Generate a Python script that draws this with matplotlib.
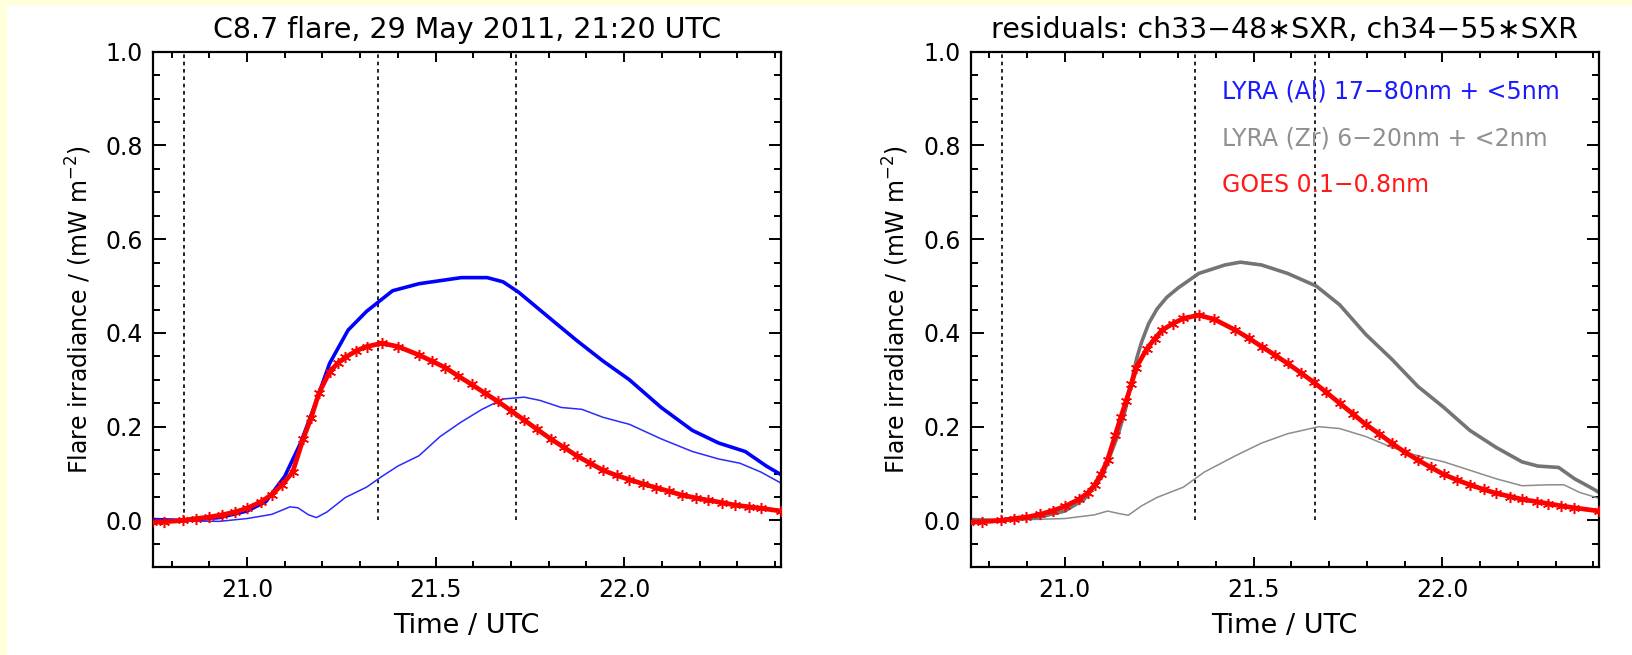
import matplotlib
matplotlib.use("Agg")
import matplotlib.pyplot as plt
from matplotlib.patches import Rectangle
from matplotlib.ticker import MultipleLocator

# ---- left panel: C8.7 flare ----
al_time = [20.749, 20.83, 20.926, 21.0, 21.05, 21.1, 21.142, 21.177, 21.219, 21.268,
           21.317, 21.386, 21.456, 21.568, 21.637, 21.679, 21.72, 21.805, 21.874, 21.944,
           22.014, 22.098, 22.181, 22.251, 22.321, 22.377, 22.415]
al_flux = [0.002, 0.0, 0.006, 0.02, 0.04, 0.094, 0.165, 0.24, 0.335, 0.406,
           0.446, 0.49, 0.505, 0.518, 0.518, 0.509, 0.487, 0.43, 0.384, 0.34,
           0.30, 0.241, 0.192, 0.165, 0.147, 0.116, 0.098]

al_thin_time = [20.749, 20.926, 21.0, 21.066, 21.114, 21.135, 21.163, 21.184, 21.212, 21.261,
                21.317, 21.358, 21.4, 21.456, 21.512, 21.568, 21.623, 21.679, 21.735, 21.777,
                21.833, 21.888, 21.944, 22.014, 22.098, 22.181, 22.251, 22.307, 22.363, 22.415]
al_thin_flux = [0.0, -0.002, 0.004, 0.013, 0.029, 0.027, 0.012, 0.006, 0.018, 0.049,
                0.071, 0.094, 0.116, 0.138, 0.179, 0.21, 0.237, 0.259, 0.263, 0.256,
                0.241, 0.237, 0.22, 0.205, 0.174, 0.147, 0.131, 0.122, 0.103, 0.08]

goes_l_time = [20.749, 20.78, 20.83, 20.865, 20.898, 20.935, 20.968, 21.0, 21.038, 21.065,
               21.093, 21.121, 21.149, 21.17, 21.191, 21.219, 21.24, 21.261, 21.29, 21.317,
               21.358, 21.4, 21.456, 21.49, 21.526, 21.56, 21.596, 21.63, 21.665, 21.7,
               21.735, 21.77, 21.805, 21.84, 21.874, 21.91, 21.944, 21.98, 22.014, 22.05,
               22.084, 22.12, 22.153, 22.19, 22.223, 22.26, 22.293, 22.33, 22.363, 22.415]
goes_l_flux = [-0.004, -0.003, 0.0, 0.004, 0.007, 0.012, 0.018, 0.026, 0.04, 0.055,
               0.076, 0.103, 0.174, 0.219, 0.272, 0.317, 0.335, 0.348, 0.362, 0.371,
               0.378, 0.371, 0.353, 0.34, 0.326, 0.308, 0.29, 0.272, 0.254, 0.234,
               0.214, 0.194, 0.174, 0.156, 0.138, 0.122, 0.107, 0.096, 0.087, 0.078,
               0.07, 0.062, 0.054, 0.048, 0.043, 0.038, 0.033, 0.029, 0.026, 0.02]

# ---- right panel: residuals ----
zr_time = [20.747, 20.83, 20.926, 21.0, 21.051, 21.099, 21.141, 21.16, 21.175, 21.19, 21.203,
           21.222, 21.244, 21.27, 21.3, 21.355, 21.424, 21.465, 21.521, 21.59, 21.666, 21.728,
           21.797, 21.866, 21.935, 22.004, 22.073, 22.142, 22.211, 22.253, 22.308, 22.35,
           22.391, 22.415]
zr_flux = [0.002, 0.0, 0.006, 0.02, 0.045, 0.094, 0.183, 0.235, 0.29, 0.345, 0.38,
           0.42, 0.451, 0.476, 0.496, 0.527, 0.545, 0.551, 0.545, 0.527, 0.5, 0.46,
           0.397, 0.344, 0.286, 0.241, 0.192, 0.156, 0.125, 0.116, 0.113, 0.089,
           0.071, 0.06]

zr_thin_time = [20.747, 21.0, 21.079, 21.113, 21.141, 21.168, 21.203, 21.244, 21.314, 21.369,
                21.452, 21.521, 21.59, 21.673, 21.728, 21.797, 21.866, 21.935, 22.004, 22.073,
                22.142, 22.211, 22.28, 22.322, 22.363, 22.415]
zr_thin_flux = [-0.002, 0.004, 0.012, 0.02, 0.015, 0.011, 0.031, 0.049, 0.071, 0.103,
                0.138, 0.165, 0.185, 0.2, 0.196, 0.179, 0.156, 0.138, 0.125, 0.107,
                0.089, 0.074, 0.076, 0.076, 0.06, 0.047]

goes_r_time = [20.747, 20.78, 20.83, 20.865, 20.898, 20.935, 20.968, 21.0, 21.037, 21.06,
               21.079, 21.097, 21.113, 21.134, 21.148, 21.162, 21.176, 21.189, 21.217, 21.238,
               21.258, 21.286, 21.314, 21.355, 21.396, 21.452, 21.487, 21.521, 21.556, 21.59,
               21.625, 21.659, 21.693, 21.728, 21.762, 21.797, 21.832, 21.866, 21.9, 21.935,
               21.97, 22.004, 22.04, 22.073, 22.11, 22.142, 22.18, 22.211, 22.25, 22.28,
               22.315, 22.349, 22.415]
goes_r_flux = [-0.004, -0.003, 0.0, 0.004, 0.007, 0.013, 0.021, 0.03, 0.045, 0.058,
               0.076, 0.1, 0.129, 0.183, 0.22, 0.254, 0.29, 0.326, 0.366, 0.388,
               0.406, 0.42, 0.431, 0.438, 0.429, 0.406, 0.389, 0.371, 0.353, 0.335,
               0.315, 0.295, 0.273, 0.25, 0.228, 0.205, 0.185, 0.165, 0.146, 0.129,
               0.113, 0.098, 0.086, 0.076, 0.066, 0.058, 0.051, 0.045, 0.04, 0.036,
               0.031, 0.027, 0.02]

left_marks = [20.832, 21.347, 21.712]
right_marks = [20.8325, 21.346, 21.663]

left_title = "C8.7 flare, 29 May 2011, 21:20 UTC"
right_title = "residuals: ch33\u221248\u2217SXR, ch34\u221255\u2217SXR"
legend_texts = ["LYRA (Al) 17\u221280nm + <5nm",
                "LYRA (Zr) 6\u221220nm + <2nm",
                "GOES 0.1\u22120.8nm"]
legend_colors = ["#1a1aff", "#909090", "#ff1a1a"]


def style_axes(ax, title):
    ax.set_xlim(20.75, 22.415)
    ax.set_ylim(-0.1, 1.0)
    ax.xaxis.set_minor_locator(MultipleLocator(0.1))
    ax.yaxis.set_minor_locator(MultipleLocator(0.05))
    ax.set_xticks([21.0, 21.5, 22.0])
    ax.set_xticklabels(["21.0", "21.5", "22.0"])
    ax.set_yticks([0.0, 0.2, 0.4, 0.6, 0.8, 1.0])
    ax.set_yticklabels(["0.0", "0.2", "0.4", "0.6", "0.8", "1.0"])
    ax.tick_params(which="both", direction="in", top=True, right=True, width=1.4)
    ax.tick_params(axis="x", which="major", length=7, pad=8, labelsize=17)
    ax.tick_params(axis="x", which="minor", length=4)
    ax.tick_params(axis="y", which="major", length=9, pad=7, labelsize=17)
    ax.tick_params(axis="y", which="minor", length=5)
    for spine in ax.spines.values():
        spine.set_linewidth(1.6)
    ax.set_title(title, fontsize=20.5, pad=10)
    ax.set_xlabel("Time / UTC", fontsize=19.5)
    ax.set_ylabel("Flare irradiance / (mW m$^{-2}$)", fontsize=17)
    ax.xaxis.set_label_coords(0.5, -0.088)
    ax.yaxis.set_label_coords(-0.094, 0.5)


def draw_goes(ax, t, f):
    ax.plot(t, f, color="red", lw=3.4, zorder=3)
    ax.plot(t, f, color="red", lw=0, marker=(6, 2, 0), markersize=8,
            markeredgewidth=1.1, zorder=4)


def main():
    fig = plt.figure(figsize=(16.32, 6.55), dpi=100)
    fig.patches.append(Rectangle((0, 1 - 6 / 655), 1, 6 / 655, transform=fig.transFigure,
                                 facecolor="#ffffdc", edgecolor="none", zorder=-1))
    fig.patches.append(Rectangle((0, 0), 7 / 1632, 1, transform=fig.transFigure,
                                 facecolor="#ffffdc", edgecolor="none", zorder=-1))

    ax1 = fig.add_axes([0.09357, 0.13389, 0.38480, 0.78718])
    ax1.vlines(left_marks, 0.0, 1.0, colors="black", linestyles=(0, (2.2, 2.2)), lw=1.2)
    ax1.plot(al_thin_time, al_thin_flux, color="#2a2aff", lw=1.1)
    ax1.plot(al_time, al_flux, color="#0000ff", lw=2.6)
    draw_goes(ax1, goes_l_time, goes_l_flux)
    style_axes(ax1, left_title)

    ax2 = fig.add_axes([0.59467, 0.13389, 0.38511, 0.78718])
    ax2.vlines(right_marks, 0.0, 1.0, colors="black", linestyles=(0, (2.2, 2.2)), lw=1.2)
    ax2.plot(zr_thin_time, zr_thin_flux, color="#8c8c8c", lw=1.1)
    ax2.plot(zr_time, zr_flux, color="#747474", lw=2.6)
    draw_goes(ax2, goes_r_time, goes_r_flux)
    style_axes(ax2, right_title)
    for i, (txt, col) in enumerate(zip(legend_texts, legend_colors)):
        ax2.text(0.40, 0.922 - i * 0.0905, txt, color=col, fontsize=17,
                 va="center", ha="left", transform=ax2.transAxes)

    fig.savefig("out.png", dpi=100)


if __name__ == "__main__":
    main()
